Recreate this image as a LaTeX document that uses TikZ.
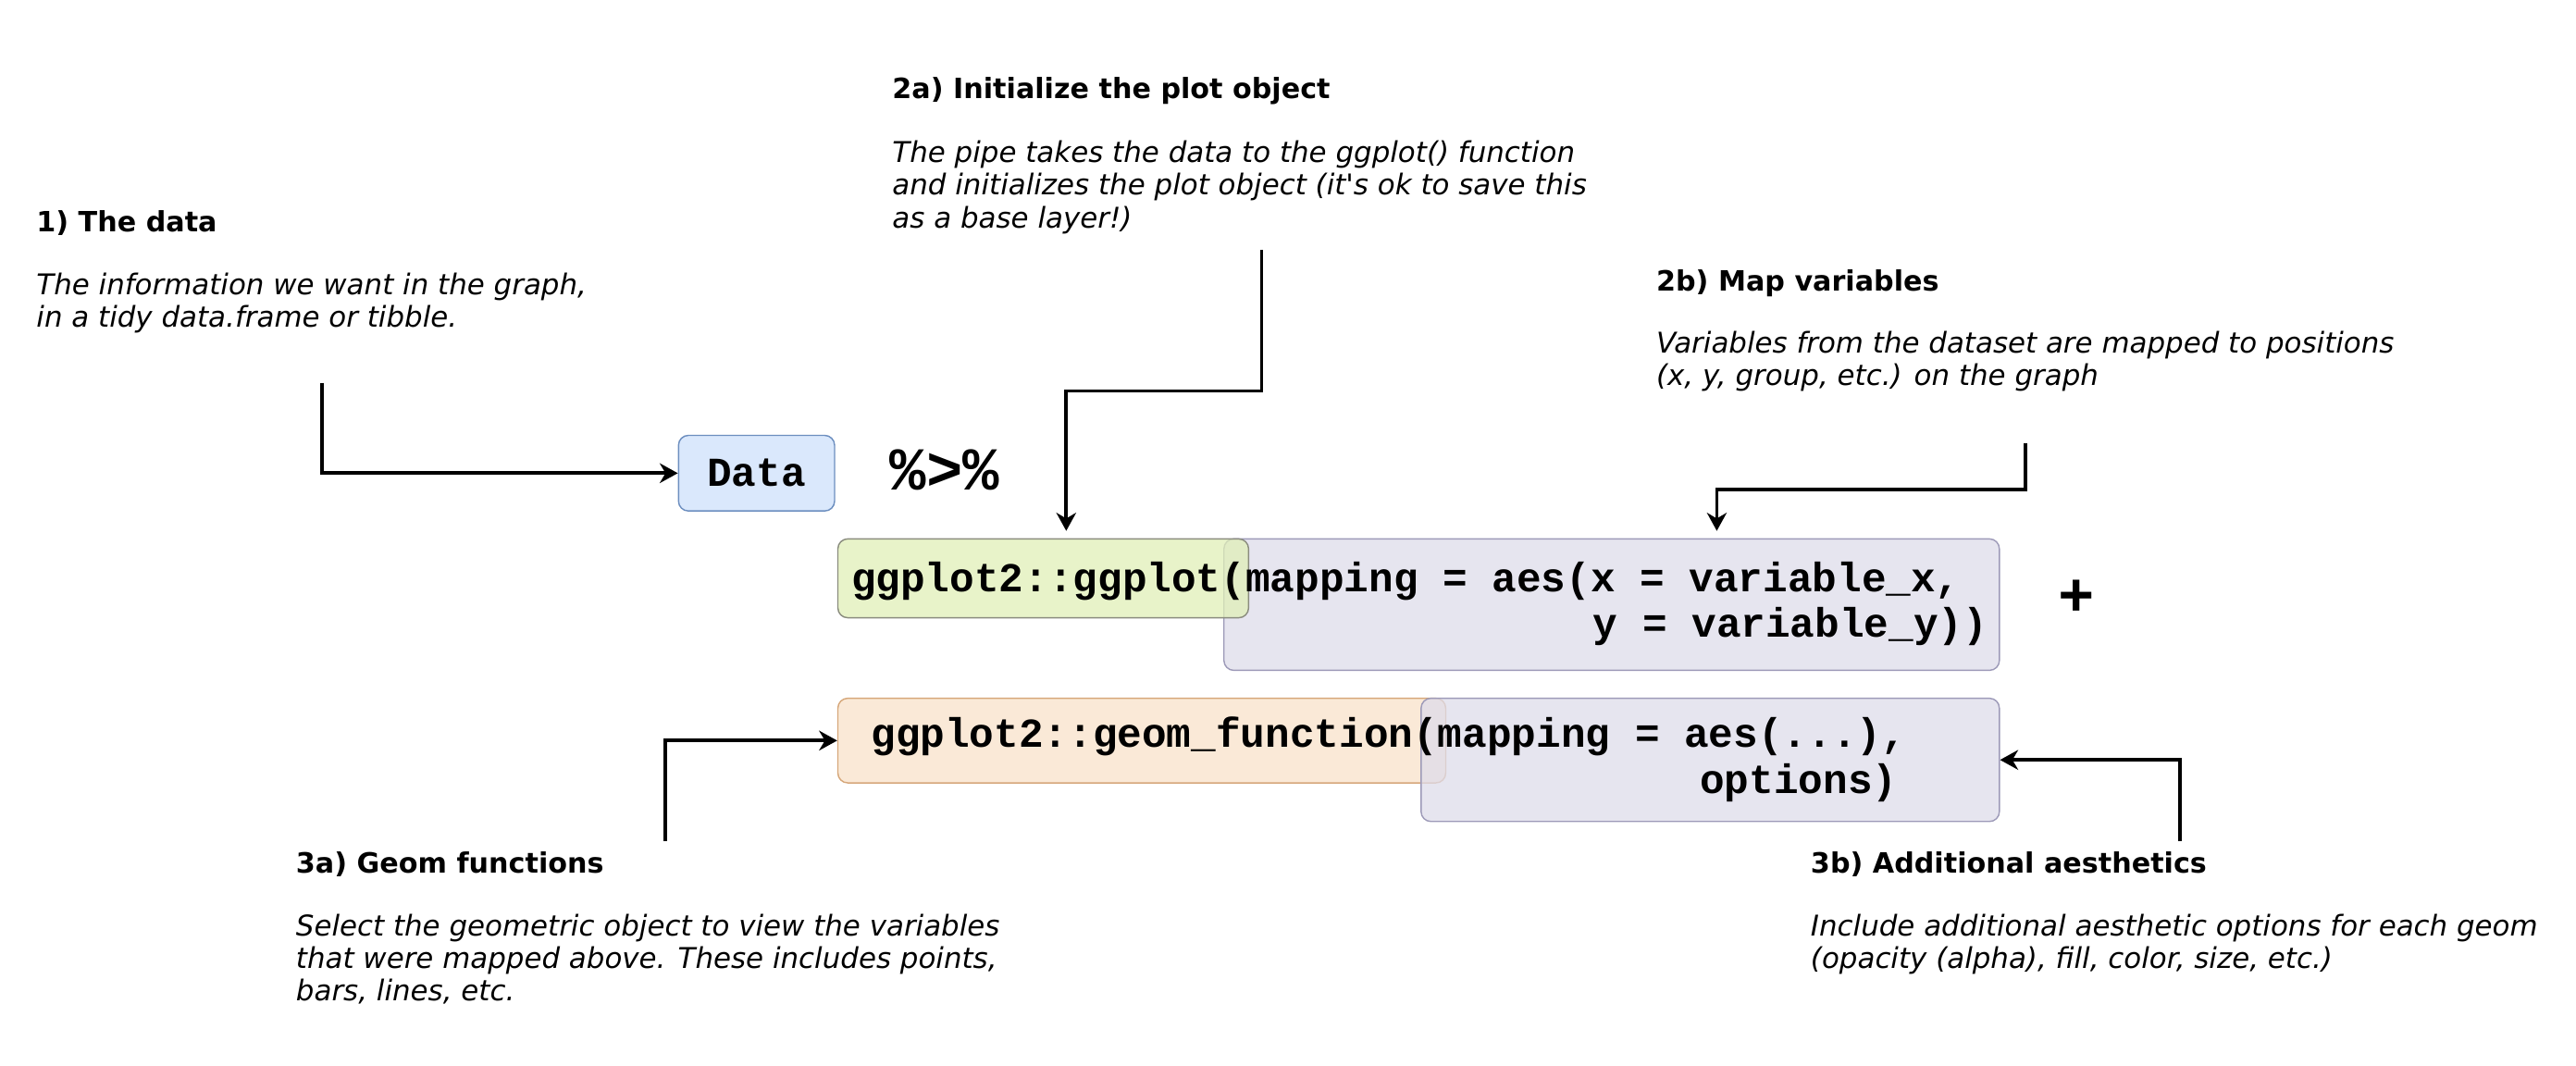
\documentclass[tikz,border=0pt]{standalone}
\usepackage{fontspec}
\setmainfont{DejaVu Sans}
\newfontfamily\codefont{Liberation Mono}
\usetikzlibrary{arrows.meta,positioning}

\definecolor{datafill}{HTML}{DAE8FC}
\definecolor{dataline}{HTML}{6C8EBF}
\definecolor{ggfill}{HTML}{E0EFB7}
\definecolor{ggline}{HTML}{8A8C7E}
\definecolor{aesfill}{HTML}{DEDCEA}
\definecolor{aesline}{HTML}{9D9AB8}
\definecolor{geomfill}{HTML}{F8E2C9}
\definecolor{geomline}{HTML}{D6A77A}

\tikzset{
  heading/.style={anchor=base west, inner sep=0pt, font=\fontsize{17}{20}\selectfont\bfseries},
  note/.style={anchor=base west, inner sep=0pt, align=left, font=\fontsize{17.4}{19.8}\selectfont\itshape},
  code/.style={inner sep=0pt, font=\fontsize{25}{28}\selectfont\codefont\bfseries},
  box/.style={rounded corners=6pt, line width=0.8pt, inner sep=0pt},
  arr/.style={line width=2.1pt, -{Stealth[length=11pt,width=12pt,inset=3.5pt]}},
}

\begin{document}
\begin{tikzpicture}[x=1pt, y=-1pt]
        \useasboundingbox (0,0) rectangle (1568,648.8);

        % boxes
        \node[box, draw=dataline, fill=datafill, minimum width=95pt, minimum height=46pt, code] (data) at (460.5,288) {Data};
        \node[box, draw=aesline, fill=aesfill, fill opacity=0.75, minimum width=472pt, minimum height=80pt] (aesbox) at (981,368) {};
        \node[box, draw=ggline, fill=ggfill, fill opacity=0.75, minimum width=250pt, minimum height=48pt] (ggbox) at (635,352) {};
        \node[box, draw=geomline, fill=geomfill, fill opacity=0.75, minimum width=370pt, minimum height=51.5pt] (geombox) at (695,450.75) {};
        \node[box, draw=aesline, fill=aesfill, fill opacity=0.75, minimum width=352pt, minimum height=75pt] (optbox) at (1041,462.5) {};

        % code
        \node[code, anchor=base west] (ggtext) at (518,360) {ggplot2::ggplot(mapping = aes(x = variable\_x,};
        \node[code, anchor=base east] (ytext) at (1210,388) {y = variable\_y))};
        \node[code, anchor=base west] (geomtext) at (530,455) {ggplot2::geom\_function(mapping = aes(...),};
        \node[code, anchor=base east] (opttext) at (1155,483) {options)};
        \node[code, font=\fontsize{37}{40}\selectfont\codefont\bfseries] (pipe) at (575,286) {\%>\%};
        \node[code, font=\fontsize{37}{40}\selectfont\codefont\bfseries] (plus) at (1264,364) {+};

        % labels (a note's base is its last line)
        \node[heading] (h1) at (22,141) {1) The data};
        \node[note] (n1) at (22,199.3) {The information we want in the graph,\\in a tidy data.frame or tibble.};
        \node[heading] (h2a) at (543,60) {2a) Initialize the plot object};
        \node[note] (n2a) at (543,138.6) {The pipe takes the data to the ggplot() function\\and initializes the plot object (it\textquotesingle s ok to save this\\as a base layer!)};
        \node[heading] (h2b) at (1008,177) {2b) Map variables};
        \node[note] (n2b) at (1008,234.8) {Variables from the dataset are mapped to positions\\(x, y, group, etc.) on the graph};
        \node[heading] (h3a) at (180,531.5) {3a) Geom functions};
        \node[note] (n3a) at (180,609.3) {Select the geometric object to view the variables\\that were mapped above. These includes points,\\bars, lines, etc.};
        \node[heading] (h3b) at (1102,531.5) {3b) Additional aesthetics};
        \node[note] (n3b) at (1102,589.5) {Include additional aesthetic options for each geom\\(opacity (alpha), fill, color, size, etc.)};

        % arrows
        \coordinate (s1) at (196,233);
        \coordinate (s2a) at (768,152);
        \coordinate (k2a) at (649,238);
        \coordinate (s2b) at (1233,270);
        \coordinate (k2b) at (1045,298);
        \coordinate (s3a) at (405,512);
        \coordinate (s3b) at (1327,512);

        \draw[arr] (s1) |- (data.west);
        \draw[arr] (s2a) |- (k2a) -- ([yshift=4.5pt]k2a |- ggbox.north);
        \draw[arr] (s2b) |- (k2b) -- ([yshift=4.5pt]k2b |- aesbox.north);
        \draw[arr] (s3a) |- (geombox.west);
        \draw[arr] (s3b) |- (optbox.east);
    \end{tikzpicture}
\end{document}
